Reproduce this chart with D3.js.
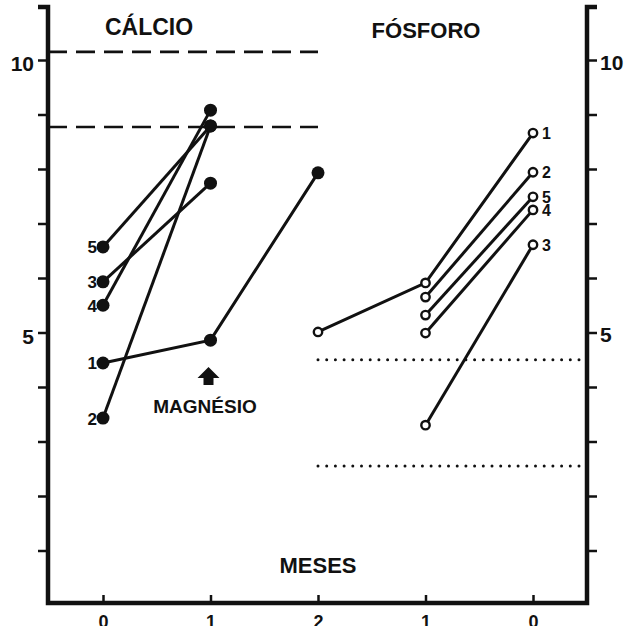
<!DOCTYPE html>
<html>
<head>
<meta charset="utf-8">
<script src="https://cdn.jsdelivr.net/npm/d3@7"></script>
<style>
  body { margin: 0; background: #fff; }
  svg { display: block; font-family: 'Liberation Sans', Arial, sans-serif; font-weight: bold; }
</style>
</head>
<body>
<div id="container"></div>
<script>
// positions along the bottom axis: calcio 0,1,2 then fosforo 1,0
const xTickLabels = ['0', '1', '2', '1', '0'];
const yTicks = [1, 2, 3, 4, 5, 6, 7, 8, 9, 10];
const yLabelled = [5, 10];

// calcio, months 0,1,2
const calcioPatients = ['1', '2', '3', '4', '5'];
const calcioValues = [
  [4.44, 4.86, 7.93],
  [3.43, 8.79],
  [5.93, 7.74],
  [5.50, 9.08],
  [6.57, 8.79]
];
const calcioRefs = [10.15, 8.77];

// fosforo, months 2,1,0 (only the months that were measured)
const fosforoPatients = ['1', '2', '5', '4', '3'];
const fosforoMonths = [
  [2, 1, 0],
  [1, 0],
  [1, 0],
  [1, 0],
  [1, 0]
];
const fosforoValues = [
  [5.01, 5.91, 8.66],
  [5.65, 7.94],
  [5.32, 7.49],
  [4.99, 7.25],
  [3.30, 6.61]
];
const fosforoRefs = [4.50, 2.55];

const w = 635;
const h = 626;

const svg = d3.select('#container').append('svg')
  .attr('width', w)
  .attr('height', h);

const x = d3.scalePoint()
  .domain(d3.range(xTickLabels.length))
  .range([103, 533]);

const y = d3.scaleLinear()
  .domain([0, 10])
  .range([605, 60]);

const frameLeft = 48;
const frameRight = 587;
const frameBottom = 603;
const frameTop = 7;

const line = d3.line().x(d => d[0]).y(d => d[1]);

// reference lines
svg.append('g')
  .selectAll('line')
  .data(calcioRefs)
  .join('line')
  .attr('x1', frameLeft)
  .attr('x2', x(2))
  .attr('y1', d => y(d))
  .attr('y2', d => y(d))
  .attr('stroke', '#111')
  .attr('stroke-width', 2.6)
  .attr('stroke-dasharray', '19,9');

svg.append('g')
  .selectAll('line')
  .data(fosforoRefs)
  .join('line')
  .attr('x1', x(2))
  .attr('x2', frameRight)
  .attr('y1', d => y(d))
  .attr('y2', d => y(d))
  .attr('stroke', '#111')
  .attr('stroke-width', 3)
  .attr('stroke-linecap', 'round')
  .attr('stroke-dasharray', '0,8.7');

// left axis
const gl = svg.append('g')
  .attr('transform', `translate(${frameLeft},0)`)
  .call(d3.axisLeft(y)
    .tickValues(yTicks)
    .tickSize(10)
    .tickPadding(4)
    .tickFormat(d => yLabelled.includes(d) ? d : ''));
gl.select('.domain').remove();
gl.selectAll('.tick line').attr('stroke', '#111').attr('stroke-width', 2.5);
gl.selectAll('.tick text')
  .attr('font-size', 21)
  .attr('font-family', "'Liberation Sans', Arial, sans-serif")
  .attr('font-weight', 'bold')
  .attr('fill', '#111')
  .attr('dy', '0.5em');

// right axis
const gr = svg.append('g')
  .attr('transform', `translate(${frameRight},0)`)
  .call(d3.axisRight(y)
    .tickValues(yTicks)
    .tickSize(10)
    .tickPadding(3)
    .tickFormat(d => yLabelled.includes(d) ? d : ''));
gr.select('.domain').remove();
gr.selectAll('.tick line').attr('stroke', '#111').attr('stroke-width', 2.5);
gr.selectAll('.tick text')
  .attr('font-size', 21)
  .attr('font-family', "'Liberation Sans', Arial, sans-serif")
  .attr('font-weight', 'bold')
  .attr('fill', '#111')
  .attr('dy', '0.45em');

// bottom axis (labels run off the bottom edge, as in the scan)
const gb = svg.append('g')
  .attr('transform', `translate(0,${frameBottom})`)
  .call(d3.axisBottom(x)
    .tickSize(-8)
    .tickPadding(12)
    .tickFormat(i => xTickLabels[i]));
gb.select('.domain').remove();
gb.selectAll('.tick line').attr('stroke', '#111').attr('stroke-width', 2.5);
gb.selectAll('.tick text')
  .attr('font-size', 18)
  .attr('font-family', "'Liberation Sans', Arial, sans-serif")
  .attr('font-weight', 'bold')
  .attr('fill', '#111')
  .attr('dy', '0.71em');

// frame: thick axis lines with small hooks at the top
svg.append('path')
  .attr('d', `M${frameLeft - 10},${frameTop} H${frameLeft} V${frameBottom} H${frameRight} V${frameTop} H${frameRight + 10}`)
  .attr('fill', 'none')
  .attr('stroke', '#111')
  .attr('stroke-width', 4.5)
  .attr('stroke-linejoin', 'miter');

// calcio series
const gc = svg.append('g');
calcioValues.forEach((vals, i) => {
  const pts = vals.map((v, m) => [x(m), y(v)]);
  gc.append('path')
    .attr('d', line(pts))
    .attr('fill', 'none')
    .attr('stroke', '#111')
    .attr('stroke-width', 3);
  gc.selectAll(null)
    .data(pts)
    .join('circle')
    .attr('cx', d => d[0])
    .attr('cy', d => d[1])
    .attr('r', 6.5)
    .attr('fill', '#111');
  gc.append('text')
    .attr('x', pts[0][0] - 6)
    .attr('y', pts[0][1])
    .attr('dy', '0.38em')
    .attr('text-anchor', 'end')
    .attr('font-size', 17)
    .attr('fill', '#111')
    .text(calcioPatients[i]);
});

// fosforo series
const gf = svg.append('g');
fosforoValues.forEach((vals, i) => {
  const pts = vals.map((v, k) => [x(4 - fosforoMonths[i][k]), y(v)]);
  gf.append('path')
    .attr('d', line(pts))
    .attr('fill', 'none')
    .attr('stroke', '#111')
    .attr('stroke-width', 3);
  gf.selectAll(null)
    .data(pts)
    .join('circle')
    .attr('cx', d => d[0])
    .attr('cy', d => d[1])
    .attr('r', 4.2)
    .attr('fill', '#fff')
    .attr('stroke', '#111')
    .attr('stroke-width', 2.4);
  const last = pts[pts.length - 1];
  gf.append('text')
    .attr('x', last[0] + 9)
    .attr('y', last[1])
    .attr('dy', '0.36em')
    .attr('font-size', 16)
    .attr('fill', '#111')
    .text(fosforoPatients[i]);
});

// titles
svg.append('text')
  .attr('x', 149)
  .attr('y', 35)
  .attr('text-anchor', 'middle')
  .attr('font-size', 23)
  .attr('fill', '#111')
  .text('CÁLCIO');

svg.append('text')
  .attr('x', 426)
  .attr('y', 38)
  .attr('text-anchor', 'middle')
  .attr('font-size', 22)
  .attr('fill', '#111')
  .text('FÓSFORO');

svg.append('text')
  .attr('x', 318)
  .attr('y', 573)
  .attr('text-anchor', 'middle')
  .attr('font-size', 22)
  .attr('fill', '#111')
  .text('MESES');

// magnesio marker under month 1
const ax = x(1) - 2;
svg.append('path')
  .attr('d', `M${ax},367 L${ax + 11},378 L${ax + 5},378 L${ax + 5},385 L${ax - 5},385 L${ax - 5},378 L${ax - 11},378 Z`)
  .attr('fill', '#111');

svg.append('text')
  .attr('x', 205)
  .attr('y', 413)
  .attr('text-anchor', 'middle')
  .attr('font-size', 19)
  .attr('fill', '#111')
  .text('MAGNÉSIO');
</script>
</body>
</html>
